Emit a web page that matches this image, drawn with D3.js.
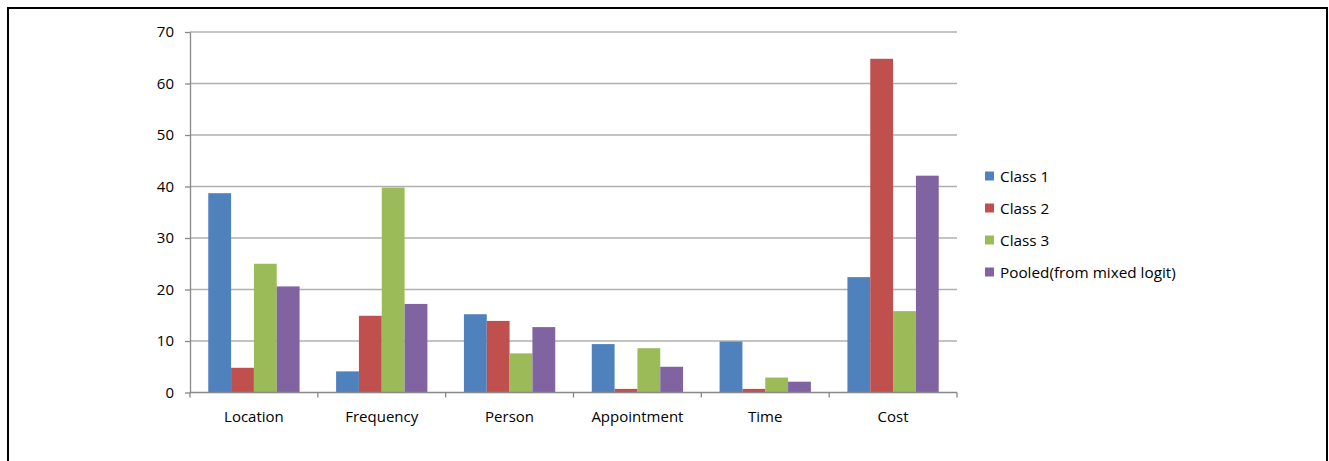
<!DOCTYPE html>
<html><head><meta charset="utf-8">
<script src="https://cdn.jsdelivr.net/npm/d3@7"></script>
<style>body{margin:0;background:#fff;}svg{display:block;}text{font-family:"Open Sans","Liberation Sans",sans-serif;fill:#000;}</style>
</head><body>
<svg id="c" width="1329" height="461"></svg>
<script>
const categories = ["Location","Frequency","Person","Appointment","Time","Cost"];
const seriesNames = ["Class 1","Class 2","Class 3","Pooled(from mixed logit)"];
const class1 = [38.7, 4.1, 15.2, 9.4, 9.9, 22.4];
const class2 = [4.8, 14.9, 13.9, 0.7, 0.7, 64.8];
const class3 = [25.0, 39.8, 7.6, 8.6, 2.9, 15.8];
const pooled = [20.6, 17.2, 12.7, 5.0, 2.1, 42.1];
const yTicks = [0,10,20,30,40,50,60,70];
const colors = ["#4F81BD","#C0504D","#9BBB59","#8064A2"];
const seriesVals = [class1, class2, class3, pooled];

const svg = d3.select("#c");
// outer frame
svg.append("path").attr("d","M8,470 L8,8 L1327,8 L1327,470").attr("fill","none").attr("stroke","#000").attr("stroke-width",2);

const pL=190, pR=957, pT=32, pB=392.5;
const x = d3.scaleBand().domain(categories).range([pL,pR]).paddingInner(0).paddingOuter(0);
const xs = d3.scaleBand().domain(d3.range(4)).range([0,x.bandwidth()]).paddingInner(0).paddingOuter(0.8);
const y = d3.scaleLinear().domain([0,70]).range([pB,pT]);

// gridlines
svg.append("g").selectAll("line").data(yTicks.filter(d=>d>0)).join("line")
  .attr("x1",pL).attr("x2",pR).attr("y1",d=>y(d)).attr("y2",d=>y(d))
  .attr("stroke","#b0b0b0").attr("stroke-width",1.3);

// bars
const g = svg.append("g");
seriesVals.forEach((vals,si)=>{
  g.selectAll(null).data(categories).join("rect")
    .attr("x",c=>x(c)+xs(si)).attr("width",xs.bandwidth())
    .attr("y",(c,i)=>y(vals[i])).attr("height",(c,i)=>y(0)-y(vals[i]))
    .attr("fill",colors[si]);
});

// y axis
const ya = svg.append("g").attr("transform",`translate(${pL},0)`)
  .call(d3.axisLeft(y).tickValues(yTicks).tickSize(5).tickPadding(11).tickSizeOuter(0));
ya.select(".domain").attr("stroke","#888").attr("stroke-width",1.3);
ya.selectAll(".tick line").attr("stroke","#888").attr("stroke-width",1.3);
ya.selectAll("text").style("font-size","15px").attr("fill","#000");

// x axis
const xa = svg.append("g").attr("transform",`translate(0,${pB})`);
xa.append("line").attr("x1",pL).attr("x2",pR).attr("stroke","#888").attr("stroke-width",1.3);
const bounds = categories.map(c=>x(c)).concat([pR]);
xa.selectAll("line.t").data(bounds).join("line").attr("class","t")
  .attr("x1",d=>d).attr("x2",d=>d).attr("y1",0).attr("y2",5).attr("stroke","#888").attr("stroke-width",1.3);
xa.selectAll("text").data(categories).join("text")
  .attr("x",c=>x(c)+x.bandwidth()/2).attr("y",29.5).attr("text-anchor","middle")
  .style("font-size","15px").text(d=>d);

// legend
const lg = svg.append("g").attr("transform","translate(985,176)");
seriesNames.forEach((n,i)=>{
  lg.append("rect").attr("x",0).attr("y",i*32-4.5).attr("width",9).attr("height",9).attr("fill",colors[i]);
  lg.append("text").attr("x",15).attr("y",i*32+5.5).style("font-size","15.3px").text(n);
});
</script>
</body></html>
